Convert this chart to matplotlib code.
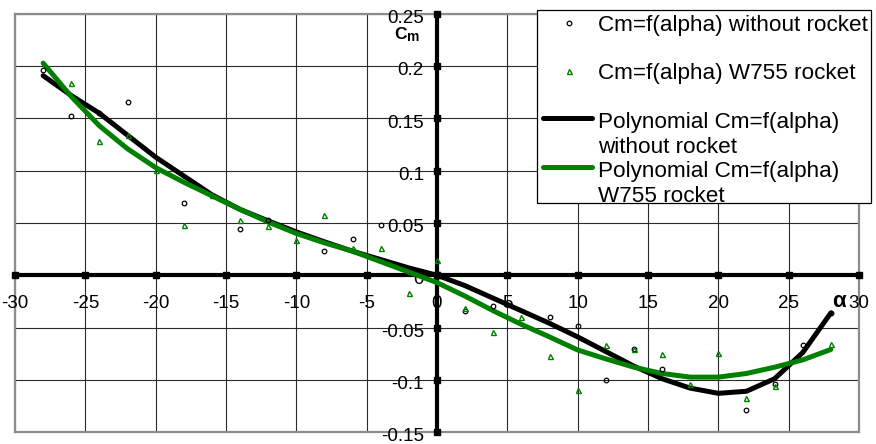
import numpy as np
import matplotlib
matplotlib.use('Agg')
import matplotlib.pyplot as plt
from matplotlib.lines import Line2D
from matplotlib.patches import Rectangle

plt.rcParams['font.family'] = ['Liberation Sans', 'DejaVu Sans']

# measured points, without rocket
alpha_no = [-28, -26, -24, -22, -18, -14, -12, -8, -6, -4, 2, 4, 8, 10, 12, 14, 16, 22, 24, 26, 28]
cm_no = [0.196, 0.152, 0.155, 0.166, 0.069, 0.044, 0.053, 0.023, 0.035, 0.048, -0.0345, -0.029,
         -0.040, -0.049, -0.1006, -0.071, -0.090, -0.129, -0.104, -0.0667, -0.036]

# measured points, W755 rocket
alpha_w = [-26, -24, -22, -20, -18, -16, -14, -12, -10, -8, -6, -4, -2, 0, 2, 4, 6, 8, 10,
           12, 14, 16, 18, 20, 22, 24, 28]
cm_w = [0.184, 0.128, 0.134, 0.1006, 0.048, 0.077, 0.053, 0.047, 0.0335, 0.058, 0.026, 0.026,
        -0.017, 0.015, -0.031, -0.054, -0.040, -0.0776, -0.110, -0.067, -0.071, -0.0757,
        -0.1044, -0.0744, -0.117, -0.106, -0.0654]

# polynomial trend lines
alpha_fit = [-28, -26, -24, -22, -20, -18, -16, -14, -12, -10, -8, -6, -4, -2, 0,
             2, 4, 6, 8, 10, 12, 14, 16, 18, 20, 22, 24, 26, 28]
fit_no = [0.191, 0.172, 0.155, 0.134, 0.113, 0.095, 0.077, 0.063, 0.052, 0.0415, 0.032, 0.023,
          0.015, 0.007, 0.0, -0.010, -0.022, -0.034, -0.046, -0.059, -0.073, -0.087, -0.099,
          -0.108, -0.113, -0.111, -0.099, -0.074, -0.036]
fit_w = [0.203, 0.171, 0.143, 0.121, 0.103, 0.089, 0.076, 0.063, 0.051, 0.040, 0.031, 0.023,
         0.013, 0.003, -0.007, -0.020, -0.034, -0.047, -0.059, -0.0715, -0.080, -0.088, -0.094,
         -0.0975, -0.0975, -0.094, -0.088, -0.081, -0.071]

x_ticks = [-30, -25, -20, -15, -10, -5, 0, 5, 10, 15, 20, 25, 30]
x_labels = ['-30', '-25', '-20', '-15', '-10', '-5', '0', '5', '10', '15', '20', '25', '30']
y_ticks = [-0.15, -0.1, -0.05, 0, 0.05, 0.1, 0.15, 0.2, 0.25]
y_labels = ['-0.15', '-0.1', '-0.05', '0', '0.05', '0.1', '0.15', '0.2', '0.25']

legend_labels = [['Cm=f(alpha) without rocket'],
                 ['Cm=f(alpha) W755 rocket'],
                 ['Polynomial Cm=f(alpha)', 'without rocket'],
                 ['Polynomial Cm=f(alpha)', 'W755 rocket']]

GREEN = '#008000'
W, H = 876, 444
PT = 0.72  # points per pixel at dpi 100


def fx(px):
    return px / W


def fy(py):
    return 1 - py / H


fig = plt.figure(figsize=(W / 100, H / 100), dpi=100)
ax = fig.add_axes([fx(15), fy(432), (859 - 15) / W, (432 - 14) / H])
ax.set_xlim(-30, 30)
ax.set_ylim(-0.15, 0.25)
ax.set_xticks(x_ticks)
ax.set_yticks(y_ticks)
ax.tick_params(length=0, labelbottom=False, labelleft=False)
ax.grid(True, color='#2a2a2a', lw=0.8)
ax.set_axisbelow(True)
for s in ax.spines.values():
    s.set_color('#8c8c8c')
    s.set_linewidth(1.6)

# main axes through origin
ax.axhline(0, color='k', lw=3, zorder=3)
ax.axvline(0, color='k', lw=3, zorder=3)
ax.plot(x_ticks, np.zeros(len(x_ticks)), 's', color='k', ms=4, clip_on=False, zorder=3)
ax.plot(np.zeros(len(y_ticks)), y_ticks, 's', color='k', ms=4, clip_on=False, zorder=3)

ax.plot(alpha_fit, fit_no, color='k', lw=3.6, solid_joinstyle='round',
        solid_capstyle='round', zorder=4)
ax.plot(alpha_fit, fit_w, color=GREEN, lw=3.6, solid_joinstyle='round',
        solid_capstyle='round', zorder=4)
ax.plot(alpha_no, cm_no, 'o', mfc='none', mec='k', ms=3.3, mew=0.9, zorder=5)
ax.plot(alpha_w, cm_w, '^', mfc='none', mec=GREEN, ms=3.6, mew=1.0, zorder=5)

for v, lab in zip(x_ticks, x_labels):
    ax.annotate(lab, (v, 0), xytext=(0, -33 * PT), textcoords='offset points',
                ha='center', va='baseline', fontsize=13.5)
for v, lab in zip(y_ticks, y_labels):
    ax.annotate(lab, (0, v), xytext=(-13 * PT, -9 * PT), textcoords='offset points',
                ha='right', va='baseline', fontsize=13.5)

ax.annotate('α', (28.6, 0), xytext=(0, -32 * PT), textcoords='offset points',
            ha='center', va='baseline', fontsize=16, fontweight='bold')
ax.annotate('C', (0, 0.25), xytext=(-43 * PT, -25 * PT), textcoords='offset points',
            ha='left', va='baseline', fontsize=12.5, fontweight='bold')
ax.annotate('m', (0, 0.25), xytext=(-30 * PT, -27 * PT), textcoords='offset points',
            ha='left', va='baseline', fontsize=10, fontweight='bold')

# legend box
fig.add_artist(Rectangle((fx(537), fy(203)), (871 - 537) / W, (203 - 10) / H,
                         transform=fig.transFigure, facecolor='white', edgecolor='k',
                         lw=0.9, zorder=10))
fig.add_artist(Line2D([fx(569)], [fy(23)], transform=fig.transFigure, marker='o', ls='none',
                      mfc='none', mec='k', ms=3.3, mew=0.9, zorder=11))
fig.add_artist(Line2D([fx(569)], [fy(71)], transform=fig.transFigure, marker='^', ls='none',
                      mfc='none', mec=GREEN, ms=3.6, mew=1.0, zorder=11))
fig.add_artist(Line2D([fx(543), fx(592)], [fy(118), fy(118)], transform=fig.transFigure,
                      color='k', lw=3.6, solid_capstyle='round', zorder=11))
fig.add_artist(Line2D([fx(543), fx(592)], [fy(167), fy(167)], transform=fig.transFigure,
                      color=GREEN, lw=3.6, solid_capstyle='round', zorder=11))

baselines = [[31], [79], [128, 153], [177, 202]]
for lines, ys in zip(legend_labels, baselines):
    for txt, yb in zip(lines, ys):
        fig.text(fx(598), fy(yb), txt, ha='left', va='baseline', fontsize=16.2, zorder=12)

fig.savefig('out.png', dpi=100)
